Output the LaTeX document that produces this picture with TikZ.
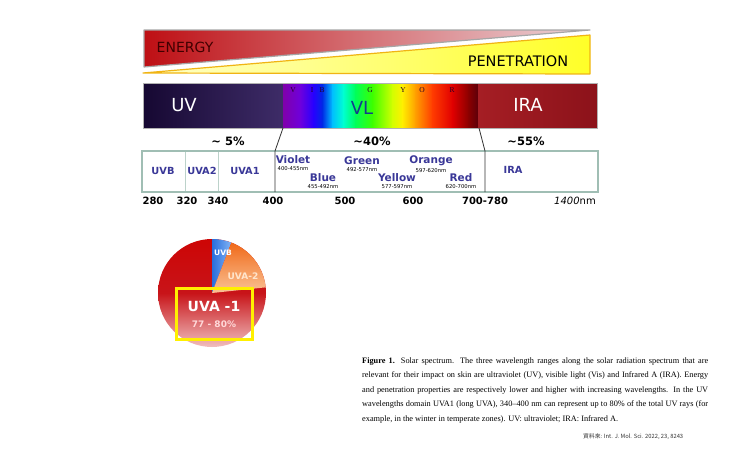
\documentclass[tikz,border=0pt]{standalone}
\usepackage{fontspec}
\setmainfont{Liberation Serif}
\setsansfont{DejaVu Sans}
\newfontfamily\cjk{Noto Sans CJK TC}
\usetikzlibrary{positioning}
\definecolor{lbl}{RGB}{58,56,152}
\definecolor{engred}{RGB}{190,15,20}
\definecolor{engend}{RGB}{236,214,218}
\definecolor{penyel}{RGB}{255,255,40}
\definecolor{penpale}{RGB}{255,255,200}
\definecolor{penline}{RGB}{240,180,20}
\definecolor{bandline}{RGB}{160,190,180}
\definecolor{uvdark}{RGB}{22,8,50}
\definecolor{uvlight}{RGB}{62,44,104}
\definecolor{iraleft}{RGB}{165,30,36}
\definecolor{iraright}{RGB}{140,18,26}
\definecolor{vltext}{RGB}{20,60,140}
\definecolor{rb0}{RGB}{128,0,170}
\definecolor{rb1}{RGB}{110,0,220}
\definecolor{rb2}{RGB}{40,0,255}
\definecolor{rb3}{RGB}{0,40,230}
\definecolor{rb4}{RGB}{0,190,255}
\definecolor{rb5}{RGB}{0,255,210}
\definecolor{rb6}{RGB}{0,255,90}
\definecolor{rb7}{RGB}{60,255,0}
\definecolor{rb8}{RGB}{210,255,0}
\definecolor{rb9}{RGB}{255,240,0}
\definecolor{rb10}{RGB}{255,160,0}
\definecolor{rb11}{RGB}{255,60,0}
\definecolor{rb12}{RGB}{225,0,0}
\definecolor{rb13}{RGB}{140,0,0}
\definecolor{rb14}{RGB}{90,0,10}
\definecolor{pietop}{RGB}{205,5,5}
\definecolor{piemid}{RGB}{200,20,25}
\definecolor{piebot}{RGB}{240,190,190}
\definecolor{uvbblue}{RGB}{40,110,220}
\definecolor{uvbpale}{RGB}{130,180,245}
\definecolor{uvatwo}{RGB}{240,105,25}
\definecolor{uvatwopale}{RGB}{250,195,150}
\definecolor{boxyel}{RGB}{255,240,0}

\begin{document}
\begin{tikzpicture}[x=1pt,y=-1pt,
		band/.style={font=\sffamily\bfseries\fontsize{9.8}{10}\selectfont,text=lbl,inner sep=0pt},
		hue/.style={font=\sffamily\bfseries\fontsize{10.5}{11}\selectfont,text=lbl,inner sep=0pt},
		nm/.style={font=\sffamily\fontsize{5.3}{6}\selectfont,inner sep=0pt},
		tick/.style={font=\sffamily\bfseries\fontsize{10}{11}\selectfont,inner sep=0pt},
		pct/.style={font=\sffamily\bfseries\fontsize{11.5}{12}\selectfont,inner sep=0pt},
		big/.style={font=\sffamily\fontsize{18}{18}\selectfont,inner sep=0pt},
		roy/.style={font=\fontsize{7.5}{8}\selectfont,text=black!70!violet,inner sep=0pt}]
		
		\fill[white] (0,0) rectangle (740,463);
		\useasboundingbox (0,0) rectangle (740,463);
		
		\shade[left color=engred,right color=engend] (144,30) -- (590,30) -- (144,67) -- cycle;
		\draw[gray!70,line width=1.2pt,line join=round] (144,30) -- (590,30) -- (144,67) -- cycle;
		\shade[left color=penpale,right color=penyel] (143,73) -- (590,35) -- (590,74) -- cycle;
		\draw[penline,line width=1.2pt,line join=round] (143,73) -- (590,35) -- (590,74) -- cycle;
		\node[font=\sffamily\fontsize{14}{14}\selectfont,text=black!75!red,inner sep=0pt] (energy) at (185,47.5) {ENERGY};
		\node[font=\sffamily\fontsize{14.5}{14}\selectfont,inner sep=0pt] (penetration) at (518,61) {PENETRATION};
		
		\shade[left color=uvdark,right color=uvlight] (143,83) rectangle (283.5,128);
		\foreach \xa/\xb/\ca/\cb in {283/300/rb0/rb1,300/313/rb1/rb2,313/322/rb2/rb3,322/332/rb3/rb4,
				332/343/rb4/rb5,343/355/rb5/rb6,355/372/rb6/rb7,372/392/rb7/rb8,392/402/rb8/rb9,
				402/415/rb9/rb10,415/432/rb10/rb11,432/452/rb11/rb12,452/468/rb12/rb13,468/478/rb13/rb14}
			\shade[left color=\ca,right color=\cb] (\xa,83) rectangle (\xb+0.6,128);
		\shade[left color=iraleft,right color=iraright] (478,83) rectangle (597,128);
		\draw[gray!60,line width=0.6pt] (143,83) rectangle (597,128);
		
		\foreach \x/\c in {293/V,312/I,322/B,370/G,403/Y,422/O,452/R}
			\node[roy] at (\x,90) {\c};
		\node[big,text=white] (uv) at (184,105) {UV};
		\node[big,text=vltext] (vl) at (362,108) {VL};
		\node[big,text=white] (ira) at (528,105) {IRA};
		
		\node[pct] (p-uv) at (228,141) {\textasciitilde{} 5\%};
		\node[pct] (p-vl) at (372,141) {\textasciitilde40\%};
		\node[pct] (p-ira) at (526,141) {\textasciitilde55\%};
		
		\draw[bandline,line width=1.6pt] (142,151) rectangle (598,192);
		\draw[bandline!70,line width=0.5pt] (185,152) -- (185,191) (218,152) -- (218,191);
		\coordinate (vl-l) at (283,128);
		\coordinate (vl-r) at (479,128);
		\coordinate (bd-l) at (275,151);
		\coordinate (bd-r) at (485,151);
		\coordinate (bd-lb) at (275,192);
		\coordinate (bd-rb) at (485,192);
		\draw[black!80,line width=0.8pt] (vl-l) -- (bd-l) -- (bd-lb);
		\draw[black!80,line width=0.8pt] (vl-r) -- (bd-r) -- (bd-rb);
		
		\node[band] (uvb) at (163,171) {UVB};
		\node[band] (uva2) at (202,171) {UVA2};
		\node[band] (uva1) at (245,171) {UVA1};
		\node[band] (ira-b) at (513,170) {IRA};
		
		\node[hue] (h-violet) at (293,160) {Violet};
		\node[hue] (h-blue) at (323,178) {Blue};
		\node[hue] (h-green) at (362,161) {Green};
		\node[hue] (h-yellow) at (397,178) {Yellow};
		\node[hue] (h-orange) at (431,161) {Orange};
		\node[hue] (h-red) at (461,178) {Red};
		\node[nm,below=2pt of h-violet] {400-455nm};
		\node[nm,below=2pt of h-blue] {455-492nm};
		\node[nm,below=2pt of h-green] {492-577nm};
		\node[nm,below=2pt of h-yellow] {577-597nm};
		\node[nm,below=2pt of h-orange] {597-620nm};
		\node[nm,below=2pt of h-red] {620-700nm};
		
		\foreach \x/\t in {153/280,187/320,218/340,273/400,345/500,413/600,485/700-780}
			\node[tick] at (\x,201) {\t};
		\node[tick,font=\sffamily\fontsize{10}{11}\selectfont] (nm-end) at (575,201) {\textit{1400}nm};
		
		\coordinate (pie) at (212,293);
		\shade[top color=pietop,bottom color=piebot,middle color=piemid] (pie) circle (54pt);
		\shade[left color=uvbblue,right color=uvbpale] (pie) -- ++(90:54pt) arc[start angle=90,end angle=69,radius=54pt] -- cycle;
		\shade[top color=uvatwo,bottom color=uvatwopale] (pie) -- ++(69:54pt) arc[start angle=69,end angle=6,radius=54pt] -- cycle;
		\node[font=\sffamily\bfseries\fontsize{7.5}{8}\selectfont,text=white,inner sep=0pt] (p-uvb) at (223,253) {UVB};
		\node[font=\sffamily\bfseries\fontsize{9}{9}\selectfont,text=orange!20!white,inner sep=0pt] (p-uva2) at (243,276) {UVA-2};
		\draw[boxyel,line width=3pt] (176,288) rectangle (252,339);
		\node[font=\sffamily\bfseries\fontsize{14}{14}\selectfont,text=white,inner sep=0pt] (p-uva1) at (214,306) {UVA -1};
		\node[font=\sffamily\bfseries\fontsize{9}{9}\selectfont,text=red!15!white,inner sep=0pt] (p-share) at (214,324) {77 - 80\%};
		
		\node[anchor=north west,inner sep=0pt,text width=346pt,align=justify,
			font=\fontsize{8.3}{14.5}\selectfont] (caption) at (362,357.5)
			{\textbf{Figure 1.} Solar spectrum. The three wavelength ranges along the solar radiation spectrum that are\linebreak
			relevant for their impact on skin are ultraviolet (UV), visible light (Vis) and Infrared A (IRA). Energy\linebreak
			and penetration properties are respectively lower and higher with increasing wavelengths. In the UV\linebreak
			wavelengths domain UVA1 (long UVA), 340--400 nm can represent up to 80\% of the total UV rays (for\linebreak
			example, in the winter in temperate zones). UV: ultraviolet; IRA: Infrared A.};
		\node[anchor=west,inner sep=0pt,font=\cjk\fontsize{5.8}{6}\selectfont,text=black!80] (source) at (583,437)
			{資料來: Int. J. Mol. Sci. 2022, 23, 8243};
	\end{tikzpicture}
\end{document}
